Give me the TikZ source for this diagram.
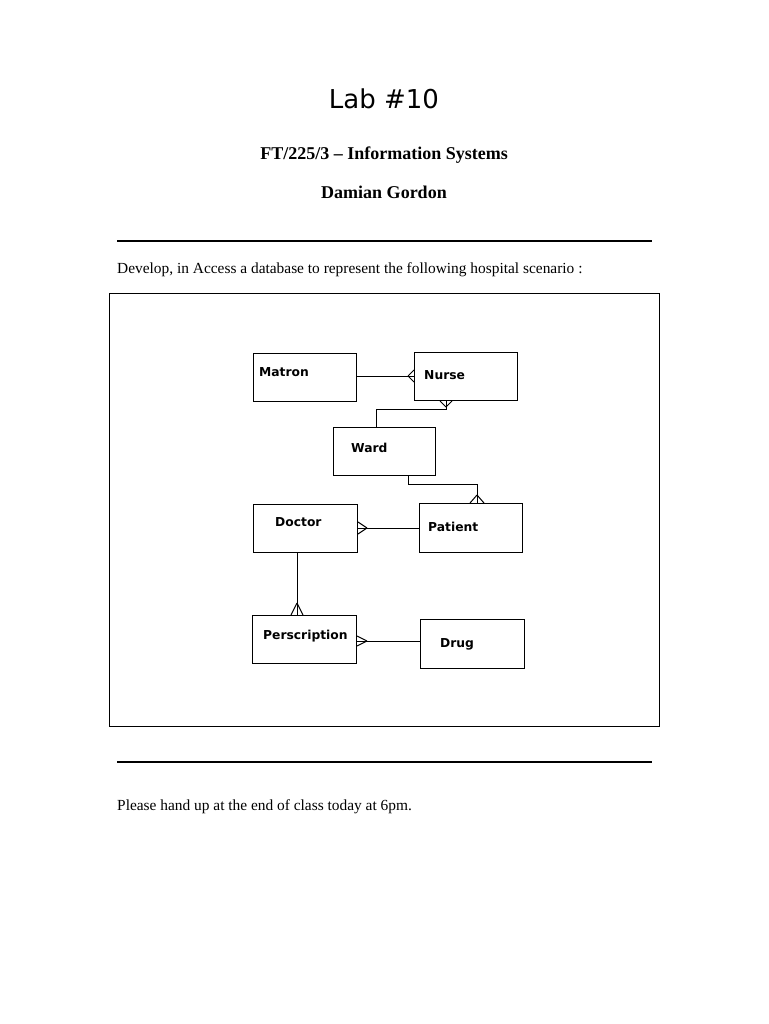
\documentclass[tikz,border=0pt]{standalone}
\usepackage{fontspec}
\setmainfont{Liberation Serif}
\newfontfamily\dvs{DejaVu Sans}
\usetikzlibrary{calc}
\tikzset{
  ent/.style={draw=black, line width=1pt, rectangle, inner sep=0pt, anchor=north west},
  lbl/.style={anchor=base west, inner sep=0pt, font=\dvs\bfseries\fontsize{12.3}{14}\selectfont},
  rel/.style={line width=1pt},
  rule/.style={line width=2pt},
}
\newcommand\ent[5]{\node[ent, minimum width=#4pt, minimum height=#5pt] (#1) at (#2,#3) {};}
\begin{document}
\begin{tikzpicture}[x=1pt,y=-1pt]
\useasboundingbox (0,0) rectangle (768,1024);
\fill[white] (0,0) rectangle (768,1024);
% header
\node[anchor=base, inner sep=0pt, font=\dvs\fontsize{26}{30}\selectfont] (lab) at (384,109) {Lab \#10};
\node[anchor=base, inner sep=0pt, font=\bfseries\fontsize{18}{21}\selectfont] (course) at (384,160) {FT/225/3 – Information Systems};
\node[anchor=base, inner sep=0pt, font=\bfseries\fontsize{18}{21}\selectfont] (author) at (384,199) {Damian Gordon};
\coordinate (r1a) at (117,241); \coordinate (r1b) at (652,241);
\draw[rule] (r1a) -- (r1b);
\node[anchor=base west, inner sep=0pt, font=\fontsize{15.4}{18}\selectfont] (intro) at (117,273) {Develop, in Access a database to represent the following hospital scenario :};
\node[draw, line width=1pt, inner sep=0pt, anchor=north west, minimum width=550pt, minimum height=433pt] (frame) at (109,293) {};
\coordinate (r2a) at (117,762); \coordinate (r2b) at (652,762);
\draw[rule] (r2a) -- (r2b);
\node[anchor=base west, inner sep=0pt, font=\fontsize{15.4}{18}\selectfont] (outro) at (117,810) {Please hand up at the end of class today at 6pm.};
% entities
\ent{matron}{253}{353}{103}{48}
\ent{nurse}{414}{352}{103}{48}
\ent{ward}{333}{427}{102}{48}
\ent{doctor}{253}{504}{104}{48}
\ent{patient}{419}{503}{103}{49}
\ent{perscr}{252}{615}{104}{48}
\ent{drug}{420}{619}{104}{49}
\node[lbl] (tmatron) at (259,376) {Matron};
\node[lbl] (tnurse) at (424,379) {Nurse};
\node[lbl] (tward) at (351,452) {Ward};
\node[lbl] (tdoctor) at (275,526) {Doctor};
\node[lbl] (tpatient) at (428,531) {Patient};
\node[lbl] (tperscr) at (263,639) {Perscription};
\node[lbl] (tdrug) at (440,647) {Drug};
% Matron -- Nurse (many at Nurse)
\coordinate (mn) at (408,376);
\draw[rel] (matron.east |- mn) -- (mn -| nurse.west);
\draw[rel] (mn) -- ($(mn -| nurse.west)+(0,-6)$) (mn) -- ($(mn -| nurse.west)+(0,6)$);
% Nurse -- Ward (many at Nurse)
\coordinate (nw1) at (446,409); \coordinate (nw2) at (376,409); \coordinate (nwc) at (446,407);
\draw[rel] (nw1 |- nurse.south) -- (nw1) -- (nw2) -- (nw2 |- ward.north);
\draw[rel] (nwc) -- ($(nwc |- nurse.south)+(-6,0)$) (nwc) -- ($(nwc |- nurse.south)+(6,0)$);
% Ward -- Patient (many at Patient)
\coordinate (wp1) at (408,484); \coordinate (wp2) at (477,484); \coordinate (wpc) at (477,495);
\draw[rel] (wp1 |- ward.south) -- (wp1) -- (wp2) -- (wp2 |- patient.north);
\draw[rel] (wpc) -- ($(wpc |- patient.north)+(-7,0)$) (wpc) -- ($(wpc |- patient.north)+(7,0)$);
% Doctor -- Patient (many at Doctor)
\coordinate (dp) at (367,528);
\draw[rel] (doctor.east |- dp) -- (dp -| patient.west);
\draw[rel] (dp) -- ($(dp -| doctor.east)+(0,-6)$) (dp) -- ($(dp -| doctor.east)+(0,6)$);
% Doctor -- Perscription (many at Perscription)
\coordinate (dr) at (297,603);
\draw[rel] (dr |- doctor.south) -- (dr |- perscr.north);
\draw[rel] (dr) -- ($(dr |- perscr.north)+(-6,0)$) (dr) -- ($(dr |- perscr.north)+(6,0)$);
% Perscription -- Drug (many at Perscription)
\coordinate (pd) at (367,641);
\draw[rel] (perscr.east |- pd) -- (pd -| drug.west);
\draw[rel] (pd) -- ($(pd -| perscr.east)+(0,-5)$) (pd) -- ($(pd -| perscr.east)+(0,5)$);
\end{tikzpicture}
\end{document}
